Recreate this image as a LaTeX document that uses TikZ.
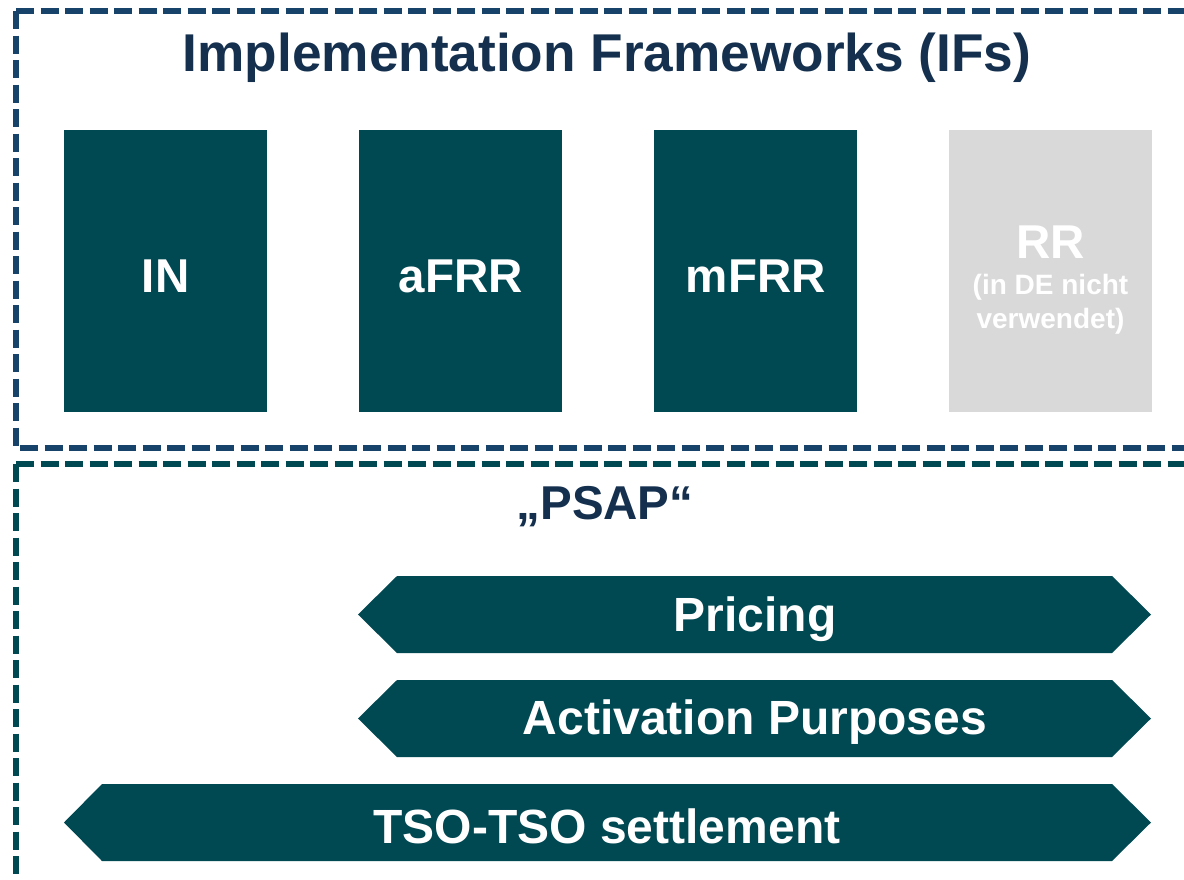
\documentclass[tikz,border=0pt]{standalone}
\usepackage{fontspec}
\setmainfont{Liberation Sans}
\definecolor{teal1}{HTML}{004852}
\definecolor{navy1}{HTML}{17426A}
\definecolor{title1}{HTML}{14304E}
\definecolor{gray1}{HTML}{D9D9D9}
\tikzset{
  frame/.style={line width=6pt, dash pattern=on 18pt off 6.5pt},
  ifbox/.style={fill=teal1, draw=none, minimum width=203pt, minimum height=282pt, inner sep=0pt},
  boxlabel/.style={text=white, font=\fontsize{47.5}{50}\selectfont\bfseries, inner sep=0pt},
  arr/.style={fill=teal1, draw=none},
  arrtext/.style={text=white, font=\fontsize{48}{50}\selectfont\bfseries, inner sep=0pt}
}
\begin{document}
\begin{tikzpicture}[x=1pt,y=-1pt]
\useasboundingbox (0,0) rectangle (1184,879);
\begin{scope}
\clip (0,0) rectangle (1184,879);
\draw[frame, navy1] (16,11) -- (1210,11) (16,11) -- (16,448) -- (1210,448);
\draw[frame, teal1] (16,464) -- (1210,464) (16,464) -- (16,900);
\end{scope}
\node[text=title1, font=\fontsize{53.2}{58}\selectfont\bfseries, inner sep=0pt] (title) at (607,58) {Implementation Frameworks (IFs)};
\node[ifbox, anchor=north west] (in) at (64,130) {};
\node[ifbox, anchor=north west] (afrr) at (359,130) {};
\node[ifbox, anchor=north west] (mfrr) at (654,130) {};
\node[ifbox, anchor=north west, fill=gray1] (rr) at (949,130) {};
\node[boxlabel] (inl) at (in.center) [yshift=-5pt] {IN};
\node[boxlabel] (afrrl) at (afrr.center) [yshift=-5pt] {aFRR};
\node[boxlabel] (mfrrl) at (mfrr.center) [yshift=-5pt] {mFRR};
\node[boxlabel] (rrl) at (1050.5,242) {RR};
\node[text=white, font=\fontsize{28}{34}\selectfont\bfseries, align=center, inner sep=0pt] (rrs) at (1050.5,304) {(in DE nicht\\verwendet)};
\node[text=title1, font=\fontsize{47.5}{50}\selectfont\bfseries, inner sep=0pt] (psap) at (605,507) {„PSAP“};
\fill[arr] (358,614.5) -- (397,576) -- (1112,576) -- (1151,614.5) -- (1112,653) -- (397,653) -- cycle;
\node[arrtext] (pricing) at (755,619) {Pricing};
\fill[arr] (358,718.5) -- (397,680) -- (1112,680) -- (1151,718.5) -- (1112,757) -- (397,757) -- cycle;
\node[arrtext] (act) at (755,722) {Activation Purposes};
\fill[arr] (64,822.5) -- (102,784) -- (1112,784) -- (1151,822.5) -- (1112,861) -- (102,861) -- cycle;
\node[arrtext] (tso) at (607,826) {TSO-TSO settlement};
\end{tikzpicture}
\end{document}
